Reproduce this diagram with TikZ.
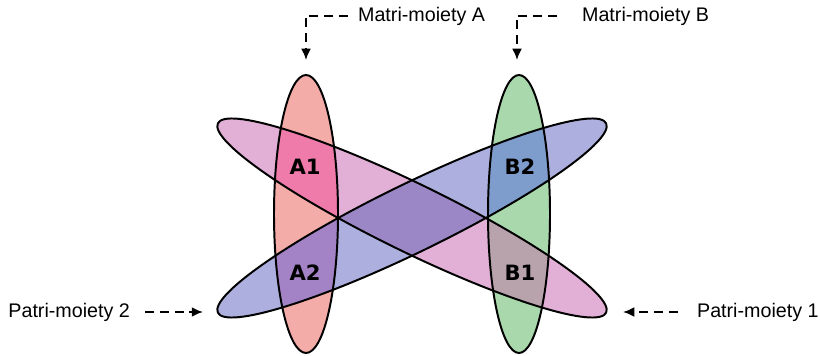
\documentclass[tikz,border=0pt]{standalone}
\usepackage{fontspec}
\setmainfont{Liberation Sans}
\newfontfamily\regionfont{DejaVu Sans}
\usetikzlibrary{arrows.meta}

\definecolor{matriAcol}{HTML}{F4ACA8}
\definecolor{matriBcol}{HTML}{A9D8AD}
\definecolor{patriOnecol}{HTML}{E2B0D6}
\definecolor{patriTwocol}{HTML}{ADB0DE}
\definecolor{Aonecol}{HTML}{EE7BA9}
\definecolor{Atwocol}{HTML}{A383C5}
\definecolor{Bonecol}{HTML}{B8A3AD}
\definecolor{Btwocol}{HTML}{7E9DCC}
\definecolor{midcol}{HTML}{9C87C6}

% the four moieties, in pixel units
\newcommand{\matriApath}{(306,141) ellipse [x radius=32, y radius=139]}
\newcommand{\matriBpath}{(519,141) ellipse [x radius=31, y radius=139]}
\newcommand{\patriOnepath}{(412,137) ellipse [x radius=216, y radius=34, rotate=-26]}
\newcommand{\patriTwopath}{(412,137) ellipse [x radius=216, y radius=34, rotate=26]}

\begin{document}
\begin{tikzpicture}[x=0.025cm,y=0.025cm,
  moiety/.style={font=\fontsize{14}{16}\selectfont, inner xsep=7pt, inner ysep=2pt},
  region/.style={font=\regionfont\bfseries\fontsize{15}{17}\selectfont, inner sep=0pt},
  pointer/.style={line width=1.4pt, dash pattern=on 6.5pt off 4pt, -{Latex[length=8pt,width=7pt]}},
  outline/.style={line width=1.4pt, black}]
\useasboundingbox (0,0) rectangle (820,355);

% base fills
\fill[matriAcol] \matriApath;
\fill[matriBcol] \matriBpath;
\fill[patriOnecol] \patriOnepath;
\fill[patriTwocol] \patriTwopath;

% overlaps
\begin{scope}
\clip \patriOnepath;
\fill[midcol] \patriTwopath;
\end{scope}
\begin{scope}
\clip \matriApath;
\fill[Aonecol] \patriOnepath;
\fill[Atwocol] \patriTwopath;
\end{scope}
\begin{scope}
\clip \matriBpath;
\fill[Bonecol] \patriOnepath;
\fill[Btwocol] \patriTwopath;
\end{scope}

% outlines
\draw[outline] \matriApath;
\draw[outline] \matriBpath;
\draw[outline] \patriOnepath;
\draw[outline] \patriTwopath;

% sections
\node[region] (A1) at (305,188) {A1};
\node[region] (A2) at (305,82) {A2};
\node[region] (B2) at (520,188) {B2};
\node[region] (B1) at (520,82) {B1};

% labels and pointers
\node[moiety, anchor=west] (labA) at (348,339) {Matri-moiety A};
\node[moiety, anchor=west] (labB) at (572,339) {Matri-moiety B};
\node[moiety, anchor=east] (labP2) at (140,43) {Patri-moiety 2};
\node[moiety, anchor=west] (labP1) at (687,43) {Patri-moiety 1};

\coordinate (tipA) at (306,295);
\coordinate (tipB) at (517,295);
\coordinate (tipP2) at (203,43);
\coordinate (tipP1) at (623,43);

\draw[pointer] (labA.west) -| (tipA);
\draw[pointer, shorten <=0.375cm] (labB.west) -| (tipB);
\draw[pointer, shorten <=0.125cm] (labP2.east) -- (tipP2);
\draw[pointer, shorten <=0.225cm] (labP1.west) -- (tipP1);
\end{tikzpicture}
\end{document}
